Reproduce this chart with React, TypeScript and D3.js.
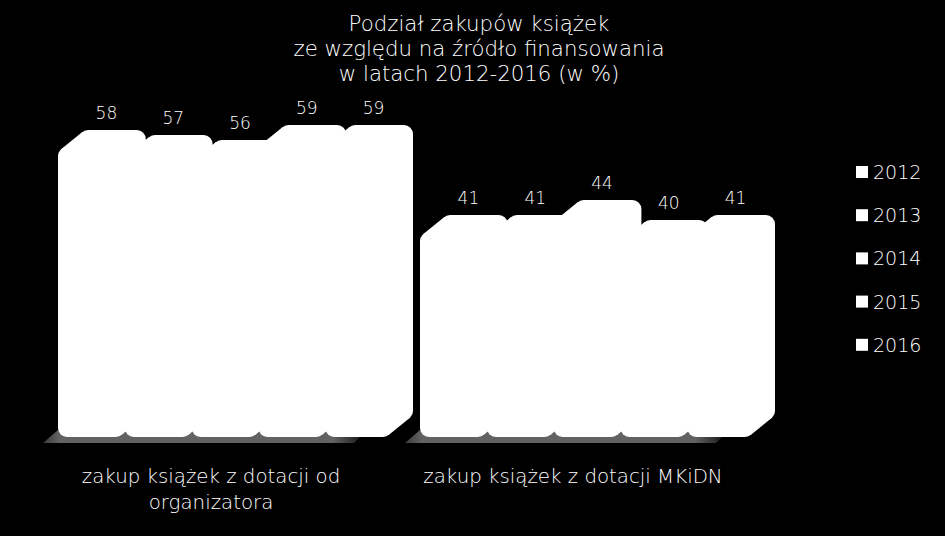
import React, { useRef, useEffect } from 'react';
import * as d3 from 'd3';

const categories = ['zakup książek z dotacji od organizatora', 'zakup książek z dotacji MKiDN'];
const categoryLines = [['zakup książek z dotacji od', 'organizatora'], ['zakup książek z dotacji MKiDN']];
const years = ['2012', '2013', '2014', '2015', '2016'];
const organizatorValues = [58, 57, 56, 59, 59];
const mkidnValues = [41, 41, 44, 40, 41];
const titleLines = ['Podział zakupów książek', 'ze względu na źródło finansowania', 'w latach 2012-2016 (w %)'];

const FONT = '"DejaVu Sans", sans-serif';

const App: React.FC = () => {
  const svgRef = useRef<SVGSVGElement>(null);
  const width = 945;
  const height = 536;

  useEffect(() => {
    document.body.style.margin = '0';
    document.body.style.background = '#000';
    if (!svgRef.current) return;

    const svg = d3.select(svgRef.current);
    svg.selectAll('*').remove();

    svg.append('rect').attr('width', width).attr('height', height).attr('fill', '#000');

    const series = [organizatorValues, mkidnValues];

    // 3D depth offset of the bar back face
    const dx = 21;
    const dy = 17;
    const r = 9;

    const x0 = d3.scaleBand().domain(categories).range([30, 754]);
    const x1 = d3.scaleBand().domain(years).range([28, 362]);
    const y = d3.scaleLinear().domain([0, 60]).range([437, 137]);
    const bottom = y(0);

    const defs = svg.append('defs');
    const grad = defs.append('linearGradient').attr('id', 'floorFade').attr('x1', '0').attr('x2', '1').attr('y1', '0').attr('y2', '0');
    grad.append('stop').attr('offset', '0').attr('stop-color', '#3a3a3a');
    grad.append('stop').attr('offset', '0.05').attr('stop-color', '#626262');
    grad.append('stop').attr('offset', '0.88').attr('stop-color', '#626262');
    grad.append('stop').attr('offset', '1').attr('stop-color', '#000');

    // Floor under each group
    categories.forEach(cat => {
      const left = x0(cat)! + x1.range()[0];
      const right = x0(cat)! + x1.range()[1];
      svg.append('path')
        .attr('d', `M${left - 15},${bottom + 6} L${right - 38},${bottom + 6} L${right - 20},${bottom - 12} L${left},${bottom - 7} Z`)
        .attr('fill', 'url(#floorFade)');
    });

    const len = Math.hypot(dx, dy);
    const nx = dy / len;
    const ny = dx / len;

    categories.forEach((cat, ci) => {
      const g = svg.append('g');
      series[ci].forEach((v, i) => {
        const bx = x0(cat)! + x1(years[i])!;
        const bw = x1.bandwidth();
        const top = y(v);

        // front face
        g.append('rect')
          .attr('x', bx).attr('y', top).attr('width', bw).attr('height', bottom - top)
          .attr('rx', r).attr('fill', '#fff');
        // back face
        g.append('rect')
          .attr('x', bx + dx).attr('y', top - dy).attr('width', bw).attr('height', bottom - top)
          .attr('rx', r).attr('fill', '#fff');

        // hull joining the two faces
        const tl = [bx + r - nx * r, top + r - ny * r];
        const br = [bx + bw - r + nx * r, bottom - r + ny * r];
        const pts: [number, number][] = [
          [tl[0], tl[1]],
          [tl[0] + dx, tl[1] - dy],
          [bx + bw - r + dx, top + r - dy],
          [br[0] + dx, br[1] - dy],
          [br[0], br[1]],
          [bx + r, bottom - r],
        ];
        g.append('path').attr('d', d3.line()(pts) + 'Z').attr('fill', '#fff');

        // value label
        svg.append('text')
          .attr('x', bx + bw / 2 + 15)
          .attr('y', top - 28)
          .attr('text-anchor', 'middle')
          .attr('font-family', FONT)
          .attr('font-weight', 200)
          .attr('font-size', '17px')
          .attr('fill', '#fff')
          .text(v);
      });
    });

    // Category labels
    categories.forEach((cat, ci) => {
      const cx = x0(cat)! + x0.bandwidth() / 2;
      categoryLines[ci].forEach((line, li) => {
        svg.append('text')
          .attr('x', cx)
          .attr('y', 483 + li * 26)
          .attr('text-anchor', 'middle')
          .attr('font-family', FONT)
          .attr('font-weight', 200)
          .attr('font-size', '19.8px')
          .attr('fill', '#fff')
          .text(line);
      });
    });

    // Title
    titleLines.forEach((line, i) => {
      svg.append('text')
        .attr('x', 479)
        .attr('y', 31 + i * 25)
        .attr('text-anchor', 'middle')
        .attr('font-family', FONT)
        .attr('font-weight', 200)
        .attr('font-size', '21.3px')
        .attr('fill', '#fff')
        .text(line);
    });

    // Legend
    const legend = svg.append('g').attr('transform', 'translate(856,172)');
    years.forEach((yr, i) => {
      const row = legend.append('g').attr('transform', `translate(0,${i * 43.2})`);
      row.append('rect').attr('x', 0).attr('y', -6).attr('width', 12).attr('height', 12).attr('fill', '#fff');
      row.append('text')
        .attr('x', 17)
        .attr('y', 7)
        .attr('font-family', FONT)
        .attr('font-weight', 200)
        .attr('font-size', '19px')
        .attr('fill', '#fff')
        .text(yr);
    });
  }, []);

  return <svg ref={svgRef} width={width} height={height} style={{ display: 'block' }} />;
};

export default App;
